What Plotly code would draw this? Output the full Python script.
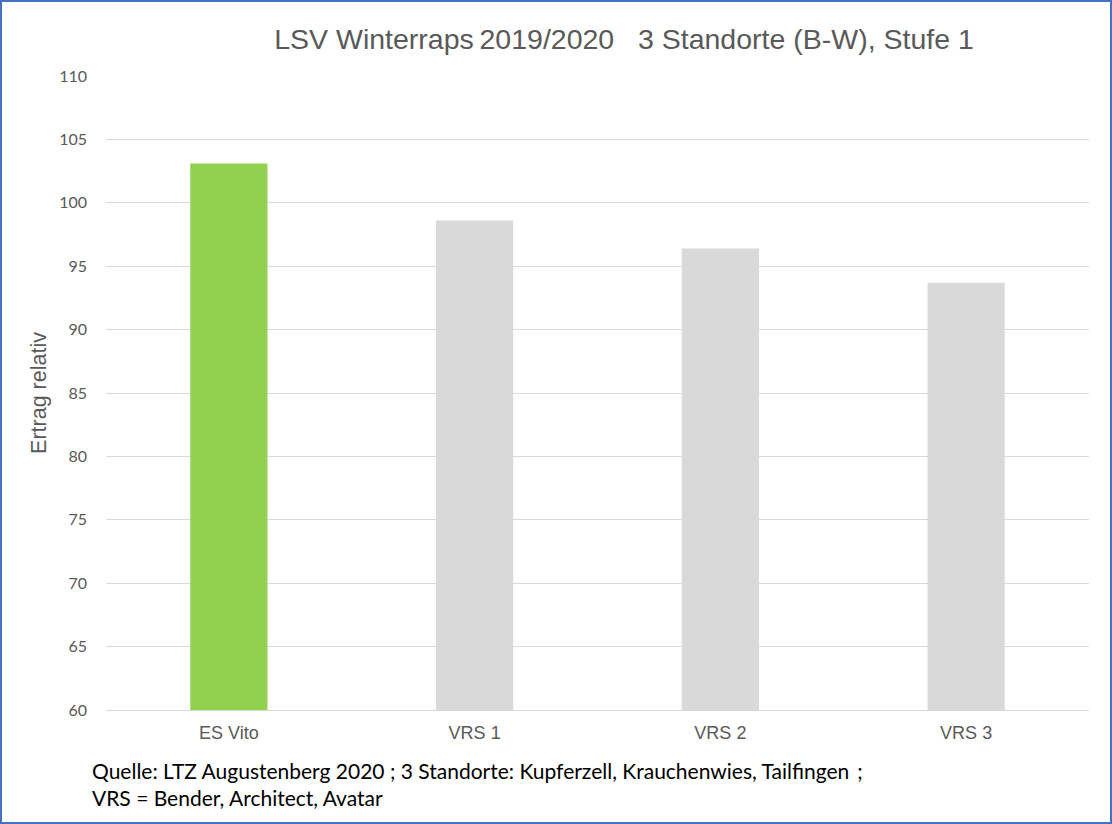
import plotly.graph_objects as go

categories = ["ES Vito", "VRS 1", "VRS 2", "VRS 3"]
values = [103.1, 98.6, 96.4, 93.7]
bar_colors = ["#92D050", "#D9D9D9", "#D9D9D9", "#D9D9D9"]
tick_vals = [60, 65, 70, 75, 80, 85, 90, 95, 100, 105, 110]

title_text = "LSV Winterraps\u20092019/2020\u00a0\u00a0 3 Standorte (B-W), Stufe 1"
y_title = "Ertrag relativ"
footer_lines = [
    "Quelle: LTZ Augustenberg 2020 ; 3 Standorte: Kupferzell, Krauchenwies, Tailfingen\u2009 ;",
    "VRS = Bender, Architect, Avatar",
]

W, H = 1112, 824
L, R, T, B = 106, 23, 76, 114
PW, PH = W - L - R, H - T - B

def px(x):
    return (x - L) / PW

def py(y):
    return (H - B - y) / PH

fig = go.Figure()
fig.add_trace(go.Bar(
    x=categories, y=values, marker=dict(color=bar_colors, line=dict(width=0)),
    hoverinfo="x+y",
))

fig.update_layout(
    width=W, height=H,
    margin=dict(l=L, r=R, t=T, b=B, pad=0),
    paper_bgcolor="white", plot_bgcolor="white",
    bargap=0.686,
    showlegend=False,
    title=dict(
        text=title_text, xref="container", yref="container",
        x=624 / W, y=1 - 39 / H, xanchor="center", yanchor="middle",
        font=dict(family="Liberation Sans, Arial", size=28.5, color="#595959"),
    ),
    xaxis=dict(
        showgrid=False, showline=True, linecolor="#D9D9D9", linewidth=1,
        ticks="", tickfont=dict(family="Liberation Sans, Arial", size=18, color="#595959"),
        ticklabelstandoff=6,
    ),
    yaxis=dict(
        range=[60, 110], tickvals=tick_vals, showgrid=True, gridcolor="#D9D9D9",
        gridwidth=1.3, zeroline=False, showline=False, ticks="",
        tickfont=dict(family="Lato, Carlito, sans-serif", size=16, color="#595959"),
        ticklabelstandoff=18,
        title=dict(text=y_title, standoff=6,
                   font=dict(family="Liberation Sans, Arial", size=21.5, color="#595959")),
    ),
)

for i, line in enumerate(footer_lines):
    fig.add_annotation(
        text=line, xref="paper", yref="paper", x=px(90), y=py(770 + 27 * i),
        xanchor="left", yanchor="middle", showarrow=False,
        font=dict(family="Lato, Carlito, sans-serif", size=21, color="#000000"),
    )

fig.add_shape(
    type="rect", xref="paper", yref="paper",
    x0=px(1), x1=px(W - 1), y0=py(H - 1), y1=py(1),
    line=dict(color="#4472C4", width=2), fillcolor="rgba(0,0,0,0)", layer="above",
)

fig.write_html(
    "out.html",
    config={"displayModeBar": False},
    post_script="document.body.style.margin='0';document.body.style.overflow='hidden';",
)
